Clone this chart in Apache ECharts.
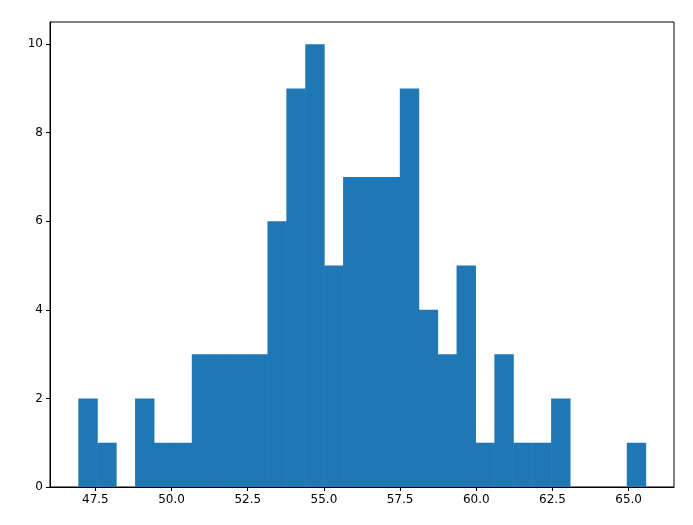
<!DOCTYPE html>
<html lang="en">
<head>
  <meta charset="UTF-8">
  <title>histogram</title>
  <script src="https://cdn.jsdelivr.net/npm/echarts@6/dist/echarts.min.js"></script>
  <style>body{margin:0;background:#fff}</style>
</head>
<body>
  <div id="main" style="width:693px;height:525px;"></div>
  <script>
  // histogram: 30 bins between binStart and binEnd
  var binStart = 46.94
  var binEnd = 65.56
  var counts = [2, 1, 0, 2, 1, 1, 3, 3, 3, 3, 6, 9, 10, 5, 7, 7, 7, 9, 4, 3, 5, 1, 3, 1, 1, 2, 0, 0, 0, 1]
  var xTicks = [47.5, 50.0, 52.5, 55.0, 57.5, 60.0, 62.5, 65.0]
  var yTicks = [0, 2, 4, 6, 8, 10]

  var w = (binEnd - binStart) / counts.length
  var data = counts.map(function (c, i) { return [binStart + i * w, binStart + (i + 1) * w, c] })

  var myChart = echarts.init(document.getElementById('main'))
  var lbl = { color: '#000', fontFamily: 'DejaVu Sans', fontSize: 12 }
  var line = { show: true, lineStyle: { color: '#000', width: 1 } }
  myChart.setOption({
    animation: false,
    grid: { left: 50, right: 19, top: 22, bottom: 38, show: true, borderColor: '#000', borderWidth: 1 },
    xAxis: {
      type: 'value', min: 46.01, max: 66.49,
      axisLine: line, splitLine: { show: false },
      axisTick: { show: true, inside: false, length: 4, lineStyle: { color: '#000' }, customValues: xTicks },
      axisLabel: Object.assign({ margin: 7, customValues: xTicks, formatter: function (v) { return v.toFixed(1) } }, lbl)
    },
    yAxis: {
      type: 'value', min: 0, max: 10.5,
      axisLine: line, splitLine: { show: false },
      axisTick: { show: true, inside: false, length: 4, lineStyle: { color: '#000' }, customValues: yTicks },
      axisLabel: Object.assign({ margin: 7, customValues: yTicks }, lbl)
    },
    series: [{
      type: 'custom',
      data: data,
      encode: { x: [0, 1], y: 2 },
      renderItem: function (params, api) {
        var p0 = api.coord([api.value(0), 0])
        var p1 = api.coord([api.value(1), api.value(2)])
        return {
          type: 'rect',
          shape: { x: p0[0], y: p1[1], width: p1[0] - p0[0] + 0.5, height: p0[1] - p1[1] },
          style: { fill: '#1f77b4' }
        }
      }
    }]
  })
  </script>
</body>
</html>
